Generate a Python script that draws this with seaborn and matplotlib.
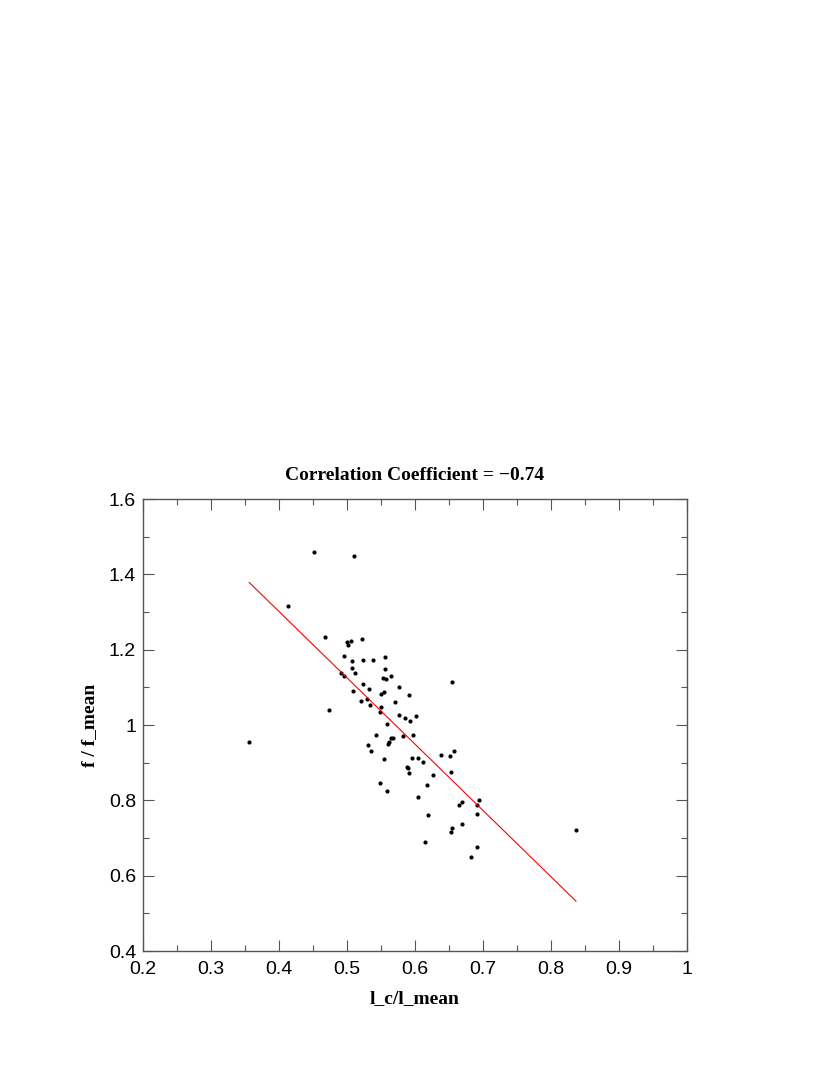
import numpy as np
import pandas as pd
import matplotlib
matplotlib.use("Agg")
import matplotlib.pyplot as plt
import seaborn as sns
from matplotlib.ticker import MultipleLocator

# ratio of critical length to mean length
l_ratio = [
    0.452, 0.510, 0.413, 0.467, 0.500, 0.502, 0.506, 0.522, 0.495, 0.508,
    0.524, 0.538, 0.556, 0.508, 0.512, 0.556, 0.491, 0.495, 0.553, 0.558,
    0.565, 0.524, 0.532, 0.509, 0.577, 0.550, 0.554, 0.591, 0.529, 0.521,
    0.534, 0.550, 0.571, 0.548, 0.473, 0.576, 0.586, 0.593, 0.602, 0.559,
    0.542, 0.582, 0.597, 0.564, 0.567, 0.562, 0.560, 0.531, 0.536, 0.356,
    0.555, 0.595, 0.605, 0.588, 0.590, 0.591, 0.549, 0.559, 0.604, 0.655,
    0.658, 0.638, 0.652, 0.612, 0.627, 0.653, 0.617, 0.694, 0.669, 0.664,
    0.691, 0.619, 0.691, 0.669, 0.655, 0.653, 0.615, 0.691, 0.682, 0.837,
]
# frequency relative to mean frequency
f_ratio = [
    1.459, 1.450, 1.315, 1.234, 1.220, 1.212, 1.224, 1.227, 1.183, 1.171,
    1.173, 1.173, 1.181, 1.151, 1.139, 1.149, 1.137, 1.129, 1.126, 1.121,
    1.130, 1.109, 1.096, 1.089, 1.101, 1.081, 1.088, 1.079, 1.069, 1.064,
    1.052, 1.049, 1.060, 1.034, 1.041, 1.027, 1.018, 1.011, 1.025, 1.002,
    0.973, 0.970, 0.974, 0.965, 0.966, 0.955, 0.949, 0.948, 0.932, 0.956,
    0.909, 0.912, 0.913, 0.888, 0.887, 0.873, 0.847, 0.826, 0.808, 1.113,
    0.932, 0.920, 0.919, 0.903, 0.868, 0.874, 0.840, 0.801, 0.796, 0.788,
    0.788, 0.761, 0.765, 0.738, 0.726, 0.715, 0.690, 0.677, 0.650, 0.721,
]

title = "Correlation Coefficient = \u22120.74"
x_label = "l_c/l_mean"
y_label = "f / f_mean"

df = pd.DataFrame({"l": l_ratio, "f": f_ratio})

sns.set_style("ticks")
plt.rcParams["font.family"] = ["Liberation Sans", "DejaVu Sans"]
plt.rcParams["text.color"] = "black"
plt.rcParams["axes.labelcolor"] = "black"

fig = plt.figure(figsize=(8.3, 10.75), dpi=100)
ax = fig.add_axes([143 / 830, 1 - 951 / 1075, 544 / 830, 452 / 1075])

sns.regplot(data=df, x="l", y="f", ax=ax, ci=None, truncate=True,
            scatter_kws={"s": 9, "color": "black", "linewidths": 0, "alpha": 1},
            line_kws={"color": "red", "linewidth": 0.8})

ax.set_xlim(0.2, 1.0)
ax.set_ylim(0.4, 1.6)
ax.xaxis.set_major_locator(MultipleLocator(0.1))
ax.xaxis.set_minor_locator(MultipleLocator(0.05))
ax.yaxis.set_major_locator(MultipleLocator(0.2))
ax.yaxis.set_minor_locator(MultipleLocator(0.1))
ax.set_xticklabels([f"{v:g}" for v in ax.get_xticks()])
ax.set_yticklabels([f"{v:g}" for v in ax.get_yticks()])

ax.tick_params(which="both", direction="in", top=True, right=True,
               color="#555555", labelcolor="black", labelsize=14, width=0.8)
ax.tick_params(axis="x", which="major", length=8, pad=7)
ax.tick_params(axis="y", which="major", length=8, pad=5)
ax.tick_params(which="minor", length=4)
for sp in ax.spines.values():
    sp.set_visible(True)
    sp.set_color("#555555")
    sp.set_linewidth(1.0)

serif = ["Liberation Serif", "DejaVu Serif"]
ax.set_title(title, family=serif, fontweight="bold", fontsize=14, pad=14)
ax.set_xlabel(x_label, family=serif, fontweight="bold", fontsize=14, labelpad=9)
ax.set_ylabel(y_label, family=serif, fontweight="bold", fontsize=14, labelpad=8)

fig.savefig("out.png", dpi=100)
